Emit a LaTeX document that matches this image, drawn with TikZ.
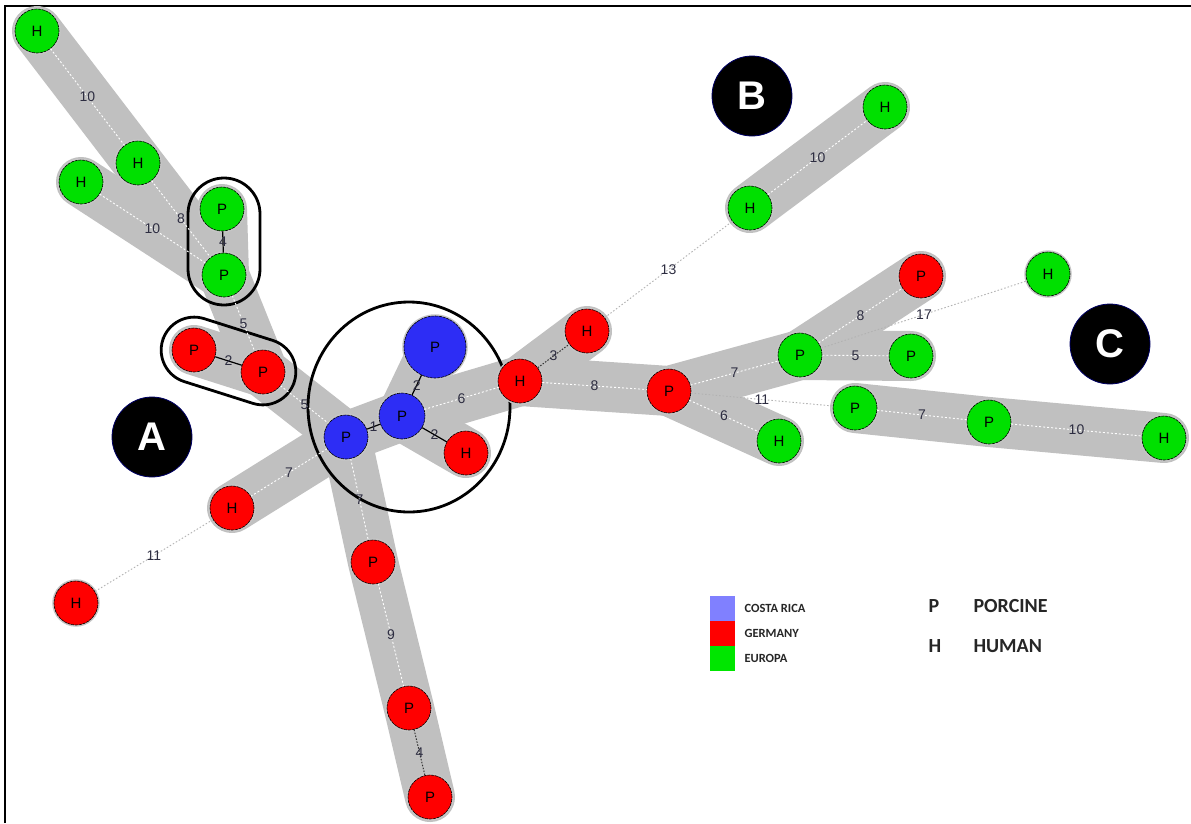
\documentclass[tikz,border=0pt]{standalone}
\usepackage{fontspec}
\setmainfont{Liberation Sans}
\newfontfamily\calib{Carlito}
\definecolor{band}{RGB}{192,192,192}
\definecolor{gnode}{RGB}{0,224,0}
\definecolor{rnode}{RGB}{255,0,0}
\definecolor{bnode}{RGB}{45,45,245}
\definecolor{lblc}{RGB}{45,45,65}
\definecolor{legblue}{RGB}{128,128,255}
\definecolor{leggreen}{RGB}{0,230,0}
\tikzset{
  sample/.style={circle, minimum size=44pt, inner sep=0pt, draw=black, line width=0.6pt,
     dash pattern=on 3pt off 0.8pt, preaction={draw=gray!45, solid, line width=3.5pt},
     font=\fontsize{15}{15}\selectfont},
  gn/.style={sample, fill=gnode},
  rn/.style={sample, fill=rnode},
  bn/.style={sample, fill=bnode},
  hull/.style={band, line width=50pt, line cap=round},
  wedge/.style={white, line width=0.9pt, dash pattern=on 2pt off 2pt},
  ledge/.style={gray!60, line width=0.9pt, dash pattern=on 1.5pt off 2pt},
  kedge/.style={black, line width=1.2pt},
  dedge/.style={black!80, line width=1pt, dash pattern=on 1.5pt off 1.5pt},
  elbl/.style={midway, text=lblc, inner sep=0pt, font=\fontsize{14}{14}\selectfont},
  badge/.style={circle, fill=black, draw=black!60!blue, line width=0.8pt, minimum size=80pt, inner sep=0pt,
     text=white, font=\fontsize{40}{40}\selectfont\bfseries},
  ring/.style={draw=black, line width=2.8pt},
  legbox/.style={minimum width=25pt, minimum height=25pt, inner sep=0pt},
  legtxt/.style={anchor=west, font=\calib\bfseries\fontsize{12.5}{12.5}\selectfont, text=black!85},
  legbig/.style={anchor=west, font=\calib\bfseries\fontsize{20}{20}\selectfont, text=black!85}
}
\begin{document}
\begin{tikzpicture}[x=1pt,y=-1pt]
\useasboundingbox (0,0) rectangle (1191,823);
\fill[white] (0,0) rectangle (1191,823);
% frame
\draw[black, line width=2pt] (5,823) -- (5,6) -- (1191,6);

% node positions
\coordinate (h1) at (37,31);
\coordinate (h2) at (138,163);
\coordinate (h3) at (81,182);
\coordinate (gp1) at (222,209);
\coordinate (gp2) at (224,275);
\coordinate (rp3) at (194,350);
\coordinate (rp4) at (263,372);
\coordinate (bl) at (435,347);
\coordinate (bm) at (402,416);
\coordinate (bs) at (346,437);
\coordinate (rhc) at (466,453);
\coordinate (rhr) at (520,381);
\coordinate (rhu) at (587,331);
\coordinate (rpc) at (669,391);
\coordinate (gh5) at (779,441);
\coordinate (gp6) at (800,355);
\coordinate (gp7) at (911,356);
\coordinate (rp8) at (921,276);
\coordinate (gh9) at (1048,274);
\coordinate (gp10) at (855,408);
\coordinate (gp11) at (989,422);
\coordinate (gh12) at (1164,438);
\coordinate (gb1) at (750,208);
\coordinate (gb2) at (885,107);
\coordinate (rh13) at (232,508);
\coordinate (rh14) at (76,603);
\coordinate (rp15) at (373,562);
\coordinate (rp16) at (409,708);
\coordinate (rp17) at (430,797);

% hull bands
\draw[hull] (h1) -- (h2) -- (gp2);
\draw[hull] (h3) -- (gp2);
\draw[hull] (gp1) -- (gp2) -- (rp4) -- (bs);
\draw[hull] (rp3) -- (rp4);
\draw[hull] (rh13) -- (bs) -- (bm) -- (rhr) -- (rhu);
\draw[hull] (bm) -- (bl);
\draw[hull] (bm) -- (rhc);
\draw[hull] (bs) -- (rp15) -- (rp16) -- (rp17);
\draw[hull] (rhr) -- (rpc) -- (gp6) -- (gp7);
\draw[hull] (gp6) -- (rp8);
\draw[hull] (rpc) -- (gh5);
\draw[hull] (gb1) -- (gb2);
\draw[hull] (gp10) -- (gp11) -- (gh12);

% ellipse and rounded groups
\draw[ring] (409,407) ellipse (101pt and 105pt);
\draw[ring, rounded corners=36pt] (188,178) rectangle (260,305);
\draw[ring, rounded corners=33pt, rotate around={-17.6:(228.5,361)}] (159.5,328) rectangle (297.5,394);

% nodes
\node[gn] (H1) at (h1) {H};
\node[gn] (H2) at (h2) {H};
\node[gn] (H3) at (h3) {H};
\node[gn] (GP1) at (gp1) {P};
\node[gn] (GP2) at (gp2) {P};
\node[rn] (RP3) at (rp3) {P};
\node[rn] (RP4) at (rp4) {P};
\node[bn, minimum size=62pt] (BL) at (bl) {P};
\node[bn, minimum size=46pt] (BM) at (bm) {P};
\node[bn] (BS) at (bs) {P};
\node[rn] (RHC) at (rhc) {H};
\node[rn] (RHR) at (rhr) {H};
\node[rn] (RHU) at (rhu) {H};
\node[rn] (RPC) at (rpc) {P};
\node[gn] (GH5) at (gh5) {H};
\node[gn] (GP6) at (gp6) {P};
\node[gn] (GP7) at (gp7) {P};
\node[rn] (RP8) at (rp8) {P};
\node[gn] (GH9) at (gh9) {H};
\node[gn] (GP10) at (gp10) {P};
\node[gn] (GP11) at (gp11) {P};
\node[gn] (GH12) at (gh12) {H};
\node[gn] (GB1) at (gb1) {H};
\node[gn] (GB2) at (gb2) {H};
\node[rn] (RH13) at (rh13) {H};
\node[rn] (RH14) at (rh14) {H};
\node[rn] (RP15) at (rp15) {P};
\node[rn] (RP16) at (rp16) {P};
\node[rn] (RP17) at (rp17) {P};

% edges with labels
\draw[wedge] (H1) -- (H2) node[elbl] {10};
\draw[wedge] (H2) -- (GP2) node[elbl] {8};
\draw[wedge] (H3) -- (GP2) node[elbl] {10};
\draw[kedge] (GP1) -- (GP2) node[elbl] {4};
\draw[wedge] (GP2) -- (RP4) node[elbl] {5};
\draw[kedge] (RP3) -- (RP4) node[elbl] {2};
\draw[wedge] (RP4) -- (BS) node[elbl] {5};
\draw[kedge] (BS) -- (BM) node[elbl] {1};
\draw[kedge] (BM) -- (BL) node[elbl] {2};
\draw[kedge] (BM) -- (RHC) node[elbl] {2};
\draw[wedge] (BM) -- (RHR) node[elbl] {6};
\draw[wedge] (BS) -- (RH13) node[elbl] {7};
\draw[ledge] (RH13) -- (RH14) node[elbl] {11};
\draw[wedge] (BS) -- (RP15) node[elbl] {7};
\draw[wedge] (RP15) -- (RP16) node[elbl] {9};
\draw[dedge] (RP16) -- (RP17) node[elbl] {4};
\draw[dedge] (RHR) -- (RHU) node[elbl] {3};
\draw[wedge] (RHR) -- (RPC) node[elbl] {8};
\draw[ledge] (RHU) -- (GB1) node[elbl] {13};
\draw[wedge] (GB1) -- (GB2) node[elbl] {10};
\draw[wedge] (RPC) -- (GP6) node[elbl] {7};
\draw[wedge] (RPC) -- (GH5) node[elbl] {6};
\draw[ledge] (RPC) -- (GP10) node[elbl] {11};
\draw[wedge] (GP6) -- (RP8) node[elbl] {8};
\draw[wedge] (GP6) -- (GP7) node[elbl] {5};
\draw[ledge] (GP6) -- (GH9) node[elbl] {17};
\draw[wedge] (GP10) -- (GP11) node[elbl] {7};
\draw[wedge] (GP11) -- (GH12) node[elbl] {10};

% badges
\node[badge] (A) at (152,437) {A};
\node[badge] (B) at (752,96) {B};
\node[badge] (C) at (1110,344) {C};

% legend
\node[legbox, fill=legblue] (lb) at (722.5,608) {};
\node[legbox, fill=rnode] (lr) at (722.5,633) {};
\node[legbox, fill=leggreen] (lg) at (722.5,658) {};
\node[legtxt] (t1) at (741,608) {COSTA RICA};
\node[legtxt] (t2) at (741,633) {GERMANY};
\node[legtxt] (t3) at (741,658) {EUROPA};
\node[legbig] (p1) at (925,606) {P};
\node[legbig] (p2) at (970,606) {PORCINE};
\node[legbig] (q1) at (925,646) {H};
\node[legbig] (q2) at (970,646) {HUMAN};
\end{tikzpicture}
\end{document}
